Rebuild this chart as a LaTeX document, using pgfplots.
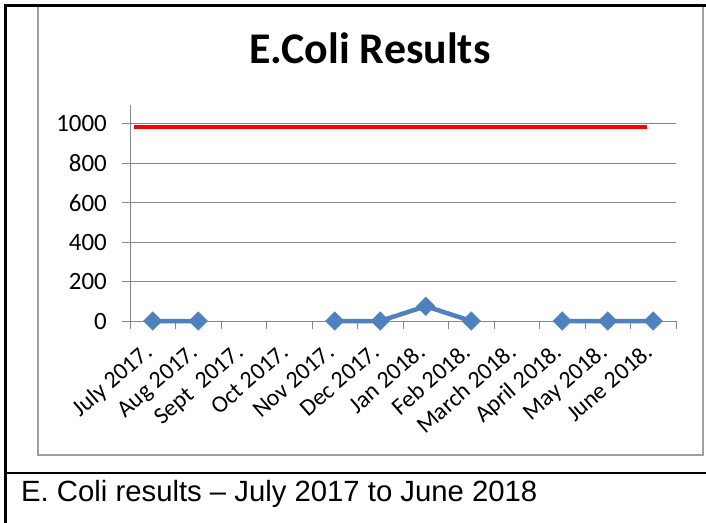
\documentclass[border=0pt]{standalone}
\usepackage{pgfplots}
\pgfplotsset{compat=1.18}
\usepackage{fontspec}
\setmainfont{Carlito}
\newfontfamily\arialfont{Liberation Sans}
\definecolor{exblue}{RGB}{79,129,189}
\definecolor{gridgray}{RGB}{134,134,134}
\definecolor{bordergray}{RGB}{160,160,160}
\begin{document}
\begin{tikzpicture}
\useasboundingbox (0,0) rectangle (706bp,-523bp);
\fill[white] (0,0) rectangle (706bp,-523bp);
\draw[bordergray, line width=1.6bp] (38bp,-5bp) -- (38bp,-455bp) -- (703bp,-455bp) -- (703bp,-5bp);
\draw[black, line width=2.8bp] (5.5bp,-523bp) -- (5.5bp,-5.5bp) -- (706bp,-5.5bp);
\draw[black, line width=2.8bp] (5.5bp,-473bp) -- (706bp,-473bp);
\node[anchor=base, inner sep=0pt, font=\fontsize{44}{52}\selectfont\bfseries] at (370bp,-63bp) {E.Coli Results};
\node[anchor=base west, inner sep=0pt, font=\arialfont\fontsize{29.4}{35}\selectfont] at (21bp,-501bp) {E. Coli results – July 2017 to June 2018};
\begin{axis}[
  at={(130bp,-321bp)}, anchor=south west,
  scale only axis, width=546bp, height=216bp,
  xmin=-0.5, xmax=11.5, ymin=0, ymax=1096,
  clip=false,
  axis x line*=bottom, axis y line*=left,
  axis line style={gridgray, line width=0.9bp, -},
  ytick={0,200,...,1000},
  ymajorgrids, major grid style={gridgray, line width=0.9bp},
  xtick={-0.5,0.5,...,11.5},
  xticklabels={},
  extra x ticks={0,1,2,3,4,5,6,7,8,9,10,11},
  extra x tick labels={July 2017.,Aug 2017.,Sept\ \ 2017.,Oct 2017.,Nov 2017.,Dec 2017.,Jan 2018.,Feb 2018.,March 2018.,April 2018.,May 2018.,June 2018.},
  extra x tick style={major tick length=0pt, grid=none},
  tick style={gridgray, line width=0.9bp},
  tick align=outside, major tick length=8bp,
  yticklabel style={font=\fontsize{25}{30}\selectfont, anchor=east, inner sep=0pt, xshift=-15bp},
  xticklabel style={font=\fontsize{24}{29}\selectfont, xshift=1bp, yshift=-33bp, rotate=41, anchor=base east, inner sep=0pt},
  /pgf/number format/assume math mode=true,
  /pgf/number format/set thousands separator={},
  unbounded coords=jump,
]
\addplot[red, line width=4.3bp, no marks] coordinates {(-0.41,985) (10.86,985)};
\addplot[exblue, line width=4.5bp, mark=square*, mark size=6.5bp,
  mark options={rotate=45, solid, fill=exblue, draw=exblue, line width=0.5bp}]
  coordinates {(0,0) (1,0) (2,nan) (3,nan) (4,0) (5,0) (6,75) (7,0) (8,nan) (9,0) (10,0) (11,0)};
\end{axis}
\end{tikzpicture}
\end{document}
